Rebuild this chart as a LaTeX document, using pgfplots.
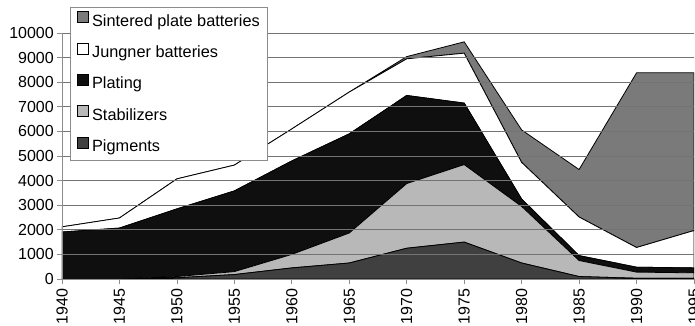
\documentclass[border=0pt]{standalone}
\usepackage{pgfplots}
\pgfplotsset{compat=1.18}
\usepackage{fontspec}
\setmainfont{Liberation Sans}

\definecolor{pigmentfill}{gray}{0.25}
\definecolor{stabfill}{gray}{0.72}
\definecolor{platefill}{gray}{0.06}
\definecolor{jungnerfill}{gray}{1}
\definecolor{sinterfill}{gray}{0.48}
\definecolor{gridgray}{gray}{0.45}
\definecolor{axisgray}{gray}{0.55}

\begin{document}
\begin{tikzpicture}
\useasboundingbox (0,0) rectangle (695pt,326pt);
\begin{axis}[
  at={(62pt,47pt)}, anchor=south west,
  scale only axis, width=632pt, height=246pt,
  xmin=1940, xmax=1995, ymin=0, ymax=10000,
  axis lines*=left,
  axis line style={axisgray, line width=0.8pt},
  tick align=outside, major tick length=5pt,
  tick style={axisgray, line width=0.8pt},
  xtick={1940,1945,...,1995},
  ytick={0,1000,...,10000},
  scaled y ticks=false,
  ymajorgrids,
  grid style={gridgray, line width=0.6pt},
  /pgf/number format/1000 sep={},
  /pgf/number format/assume math mode=true,
  ticklabel style={font=\fontsize{16}{19}\selectfont},
  xticklabel style={rotate=90, anchor=east, inner xsep=4.5pt, inner ysep=1pt},
  yticklabel style={inner sep=1pt, xshift=-2pt},
  stack plots=y,
  area style,
  every axis plot/.append style={draw=black, line width=0.8pt},
  reverse legend,
  legend cell align=left,
  legend image code/.code={\draw[#1, draw=black, line width=0.7pt] (0.5pt,-0.5pt) rectangle (11.5pt,10.5pt);},
  legend style={
    at={(axis description cs:0.0127,1.106)}, anchor=north west,
    draw=axisgray, line width=0.8pt, fill=white,
    font=\fontsize{16.3}{19}\selectfont,
    nodes={inner sep=1pt, text height=12pt, text depth=4pt},
    row sep=11.5pt, column sep=2pt,
    inner xsep=7pt, inner ysep=4pt,
  },
]
% Pigments
\addplot[fill=pigmentfill] coordinates {
  (1940,0) (1945,0) (1950,50) (1955,180) (1960,450) (1965,650)
  (1970,1250) (1975,1500) (1980,650) (1985,100) (1990,30) (1995,30)
} \closedcycle;
% Stabilizers
\addplot[fill=stabfill] coordinates {
  (1940,0) (1945,0) (1950,50) (1955,120) (1960,550) (1965,1220)
  (1970,2630) (1975,3150) (1980,2300) (1985,650) (1990,250) (1995,220)
} \closedcycle;
% Plating
\addplot[fill=platefill] coordinates {
  (1940,1910) (1945,2070) (1950,2750) (1955,3280) (1960,3800) (1965,4030)
  (1970,3580) (1975,2500) (1980,300) (1985,200) (1990,200) (1995,200)
} \closedcycle;
% Jungner batteries
\addplot[fill=jungnerfill] coordinates {
  (1940,210) (1945,410) (1950,1220) (1955,1050) (1960,1300) (1965,1700)
  (1970,1490) (1975,2030) (1980,1490) (1985,1570) (1990,800) (1995,1520)
} \closedcycle;
% Sintered plate batteries
\addplot[fill=sinterfill] coordinates {
  (1940,0) (1945,0) (1950,0) (1955,0) (1960,0) (1965,0)
  (1970,90) (1975,460) (1980,1320) (1985,1930) (1990,7100) (1995,6410)
} \closedcycle;
\legend{Pigments, Stabilizers, Plating, Jungner batteries, Sintered plate batteries}
\end{axis}
\end{tikzpicture}
\end{document}
